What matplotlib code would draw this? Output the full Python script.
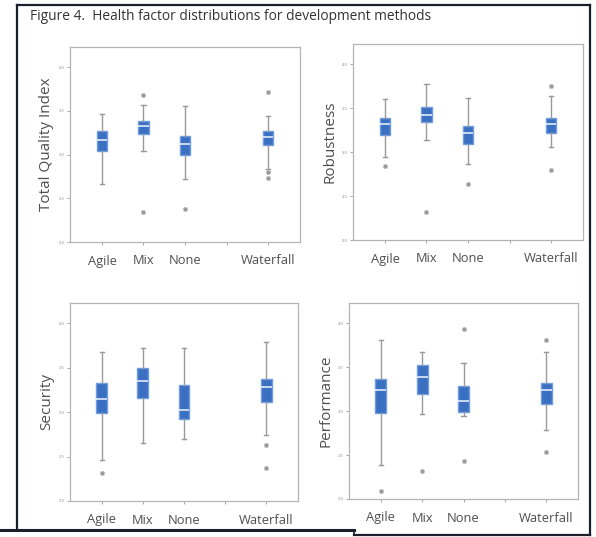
import matplotlib
matplotlib.use('Agg')
import matplotlib.pyplot as plt
from matplotlib.lines import Line2D

plt.rcParams['font.family'] = ['Open Sans', 'DejaVu Sans']

# categories (4th slot is an empty category on the axis)
categories = ['Agile', 'Mix', 'None', '', 'Waterfall']
groups = ['Agile', 'Mix', 'None', 'Waterfall']
group_pos = [1, 2, 3, 5]

yticks = [2.0, 2.5, 3.0, 3.5, 4.0]
ytick_labels = ['2.0', '2.5', '3.0', '3.5', '4.0']

# each box: whisker low, q1, median, q3, whisker high, outliers
tqi_whislo = [2.66, 3.04, 2.72, 2.84]
tqi_q1 = [3.04, 3.23, 2.99, 3.11]
tqi_med = [3.17, 3.33, 3.12, 3.20]
tqi_q3 = [3.27, 3.38, 3.21, 3.27]
tqi_whishi = [3.46, 3.57, 3.55, 3.44]
tqi_fliers = [[], [3.68, 2.34], [2.38], [3.71, 2.80, 2.735]]

rob_whislo = [2.95, 3.14, 2.87, 3.06]
rob_q1 = [3.19, 3.34, 3.09, 3.22]
rob_med = [3.32, 3.42, 3.22, 3.32]
rob_q3 = [3.39, 3.51, 3.30, 3.39]
rob_whishi = [3.60, 3.78, 3.62, 3.64]
rob_fliers = [[2.84], [2.32], [2.64], [3.75, 2.80]]

sec_whislo = [2.46, 2.65, 2.70, 2.74]
sec_q1 = [2.99, 3.16, 2.92, 3.12]
sec_med = [3.15, 3.35, 3.03, 3.28]
sec_q3 = [3.33, 3.50, 3.31, 3.37]
sec_whishi = [3.68, 3.72, 3.72, 3.79]
sec_fliers = [[2.32], [], [], [2.63, 2.37]]

perf_whislo = [2.39, 2.97, 2.94, 2.79]
perf_q1 = [2.98, 3.20, 2.99, 3.08]
perf_med = [3.24, 3.39, 3.11, 3.24]
perf_q3 = [3.36, 3.52, 3.29, 3.32]
perf_whishi = [3.81, 3.67, 3.55, 3.67]
perf_fliers = [[2.09], [2.32], [3.93, 2.43], [3.81, 2.53]]

panels = [
    ('Total Quality Index', tqi_whislo, tqi_q1, tqi_med, tqi_q3, tqi_whishi, tqi_fliers,
     [70, 47, 300, 242]),
    ('Robustness', rob_whislo, rob_q1, rob_med, rob_q3, rob_whishi, rob_fliers,
     [353, 44, 583, 240]),
    ('Security', sec_whislo, sec_q1, sec_med, sec_q3, sec_whishi, sec_fliers,
     [70, 303, 298, 501]),
    ('Performance', perf_whislo, perf_q1, perf_med, perf_q3, perf_whishi, perf_fliers,
     [349, 303, 578, 499]),
]

W, H = 596, 537
fig = plt.figure(figsize=(W / 100, H / 100), dpi=100)

grey = '#9a9a9a'
blue = '#3b6fc2'

for name, wlo, q1, med, q3, whi, fl, (x0, y0, x1, y1) in panels:
    ax = fig.add_axes([x0 / W, (H - y1) / H, (x1 - x0) / W, (y1 - y0) / H])
    stats = []
    for i, g in enumerate(groups):
        stats.append({'label': g, 'whislo': wlo[i], 'q1': q1[i], 'med': med[i],
                      'q3': q3[i], 'whishi': whi[i], 'fliers': fl[i]})
    ax.bxp(stats, positions=group_pos, widths=0.26, patch_artist=True,
           boxprops=dict(facecolor=blue, edgecolor='#6f9de0', linewidth=1),
           medianprops=dict(color='#f2f6ff', linewidth=1.1),
           whiskerprops=dict(color=grey, linewidth=1),
           capprops=dict(color=grey, linewidth=1),
           capwidths=0.1,
           flierprops=dict(marker='o', markersize=3, markerfacecolor='#9a9a9a',
                           markeredgecolor='#bdbdbd', markeredgewidth=0.5))
    ax.set_xlim(0.23, 5.77)
    ax.set_ylim(2.0, 4.23)
    ax.set_xticks(range(1, 6))
    ax.set_xticklabels(categories, fontsize=9.3, color='#4f4f4f')
    ax.set_yticks(yticks)
    ax.set_yticklabels(ytick_labels, fontsize=3, color='#888888')
    ax.tick_params(length=2, width=0.6, color='#999999', pad=2)
    ax.tick_params(axis='x', pad=7)
    ax.set_ylabel(name, fontsize=11, color='#4f4f4f', labelpad=3)
    for s in ax.spines.values():
        s.set_color('#b5b5b5')
        s.set_linewidth(0.9)

fig.text(30 / W, 1 - 17 / H, 'Figure 4.  Health factor distributions for development methods',
         fontsize=9.9, color='#333333', va='center', ha='left')

# outer frame
def fline(xs, ys, lw=1.6):
    fig.add_artist(Line2D([x / W for x in xs], [1 - y / H for y in ys],
                          transform=fig.transFigure, color='#1a1f2b', linewidth=lw))

fline([17, 590], [5, 5])
fline([17, 17], [5, 530])
fline([590, 590], [5, 535])
fline([0, 354], [530, 530], lw=2.2)
fline([354, 354], [530, 535], lw=1.2)
fline([354, 590], [535, 535])

fig.savefig('out.png', dpi=100)
